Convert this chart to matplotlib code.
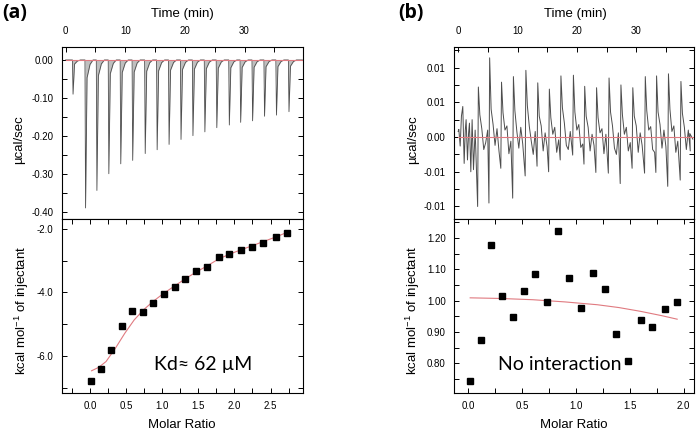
import numpy as np
import matplotlib
matplotlib.use("Agg")
import matplotlib.pyplot as plt
from matplotlib.ticker import MultipleLocator, FormatStrFormatter, FuncFormatter

plt.rcParams['font.family'] = ['Liberation Sans', 'DejaVu Sans']
plt.rcParams['mathtext.default'] = 'regular'

# ---- panel (a): raw injections (time in min, peak in ucal/sec)
a_inj_t = [1.2, 3.3, 5.2, 7.2, 9.2, 11.2, 13.3, 15.3, 17.3, 19.3,
           21.3, 23.3, 25.3, 27.4, 29.3, 31.3, 33.3, 35.3, 37.4]
a_inj_peak = [-0.090, -0.389, -0.343, -0.299, -0.273, -0.264, -0.246, -0.236, -0.222, -0.209,
              -0.199, -0.189, -0.178, -0.171, -0.164, -0.160, -0.148, -0.145, -0.136]

# ---- panel (a): integrated heats
a_ratio = [0.017, 0.157, 0.296, 0.439, 0.587, 0.726, 0.874, 1.02, 1.17, 1.32,
           1.47, 1.62, 1.78, 1.93, 2.09, 2.25, 2.40, 2.57, 2.73]
a_heat = [-6.78, -6.40, -5.82, -5.07, -4.60, -4.61, -4.35, -4.05, -3.82, -3.57,
          -3.33, -3.21, -2.90, -2.80, -2.67, -2.58, -2.46, -2.27, -2.13]
a_fit_x = [0.02, 0.12, 0.22, 0.35, 0.48, 0.61, 0.74, 0.87, 1.02, 1.17, 1.32,
           1.47, 1.62, 1.78, 1.93, 2.09, 2.25, 2.40, 2.57, 2.73]
a_fit_y = [-6.47, -6.36, -6.18, -5.76, -5.29, -4.87, -4.55, -4.29, -4.03, -3.80, -3.57,
           -3.36, -3.17, -2.95, -2.80, -2.66, -2.53, -2.40, -2.26, -2.11]

# ---- panel (b): raw trace
b_start_t = [0.0, 0.11, 0.34, 0.55, 0.78, 1.01, 1.2, 1.34, 1.57, 1.75, 1.9, 2.13, 2.35, 2.58, 2.86]
b_start_y = [0.0008, 0.0011, -0.0013, 0.0030, 0.0044, -0.0038, 0.0010, 0.0025, -0.0033, 0.0005,
             0.0020, -0.0050, 0.0025, -0.0047, 0.0010]
b_inj_t = [3.4, 5.3, 7.3, 9.3, 11.4, 13.4, 15.35, 17.3, 19.4, 21.3,
           23.3, 25.4, 27.4, 29.4, 31.5, 33.4, 35.4, 37.5]
b_pos = [0.0072, 0.0114, 0.0079, 0.0087, 0.0096, 0.0078, 0.0069, 0.0088, 0.0089, 0.0073,
         0.0071, 0.0085, 0.0075, 0.0071, 0.0087, 0.0088, 0.0091, 0.0080]
b_neg = [-0.0100, -0.0095, -0.0045, -0.0088, -0.0056, -0.0042, -0.0050, -0.0033, -0.0026, -0.0039,
         -0.0051, -0.0052, -0.0067, -0.0045, -0.0052, -0.0051, -0.0071, -0.0062]
b_tail = [
    [0.0032, 0.0012, -0.0018, -0.0008, 0.0010],
    [0.0040, 0.0018, -0.0012, 0.0012, -0.0020],
    [0.0035, 0.0010, 0.0016, -0.0024, -0.0006],
    [0.0038, 0.0008, -0.0016, 0.0014, -0.0010],
    [0.0045, 0.0015, -0.0006, -0.0025, 0.0008],
    [0.0030, 0.0016, -0.0020, 0.0006, -0.0014],
    [0.0028, 0.0004, 0.0014, -0.0022, -0.0004],
    [0.0042, 0.0020, -0.0012, -0.0018, 0.0008],
    [0.0036, 0.0010, 0.0018, -0.0015, -0.0010],
    [0.0030, 0.0014, -0.0020, 0.0004, -0.0012],
    [0.0028, 0.0006, 0.0012, -0.0024, 0.0004],
    [0.0036, 0.0016, -0.0016, -0.0025, 0.0006],
    [0.0032, 0.0004, 0.0014, -0.0020, -0.0008],
    [0.0030, 0.0016, -0.0022, 0.0006, -0.0012],
    [0.0038, 0.0010, 0.0015, -0.0018, -0.0022],
    [0.0036, 0.0018, -0.0016, 0.0010, -0.0014],
    [0.0040, 0.0008, 0.0016, -0.0022, -0.0006],
    [0.0034, 0.0014, -0.0018, 0.0010, -0.0020],
]
b_end_t = [39.0, 39.5]
b_end_y = [0.0005, -0.0003]

# ---- panel (b): integrated heats
b_ratio = [0.019, 0.117, 0.216, 0.318, 0.42, 0.522, 0.624, 0.73, 0.835, 0.94,
           1.048, 1.156, 1.267, 1.376, 1.487, 1.60, 1.71, 1.83, 1.94]
b_heat = [0.745, 0.876, 1.178, 1.016, 0.948, 1.031, 1.086, 0.996, 1.222, 1.071,
          0.977, 1.087, 1.036, 0.894, 0.807, 0.938, 0.916, 0.972, 0.996]
b_fit_x = [0.02, 0.3, 0.6, 0.9, 1.2, 1.4, 1.6, 1.8, 1.94]
b_fit_y = [1.009, 1.007, 1.003, 0.996, 0.987, 0.978, 0.966, 0.952, 0.941]

W, H = 700, 434
fig = plt.figure(figsize=(7, 4.34), dpi=100)


def box(l, t, r, b):
    return [l / W, 1 - b / H, (r - l) / W, (b - t) / H]


def style(ax, top_labels):
    for s in ax.spines.values():
        s.set_linewidth(0.8)
    ax.tick_params(which='both', direction='in', labelsize=7, width=0.7,
                   left=True, right=True, top=True, bottom=True)
    ax.tick_params(which='both', length=3.5)
    if top_labels:
        ax.tick_params(axis='x', which='both', labeltop=True, labelbottom=False, bottom=False, pad=8)
    else:
        ax.tick_params(axis='x', pad=6)
    ax.tick_params(axis='y', pad=6)


def two_dec(v, pos):
    # Origin rounds half away from zero
    s = '%.2f' % (v + np.sign(v) * 1e-9)
    return '0.00' if s == '-0.00' else s


red = '#e07a80'

# ---------------- panel (a) top
ax1 = fig.add_axes(box(62, 47, 303, 219))
ta, ya = [0.0], [0.0]
for t, d in zip(a_inj_t, a_inj_peak):
    ta += [t - 0.05, t + 0.05, t + 0.3, t + 0.8, t + 1.3]
    ya += [0.0, d, d * 0.12, d * 0.03, 0.0]
ta += [39.7]
ya += [0.0]
ax1.fill_between(ta, ya, 0, color='0.75', lw=0)
ax1.plot(ta, ya, color='0.3', lw=0.6)
ax1.plot([0, 39.7], [0, 0], color=red, lw=0.8)
ax1.set_xlim(-0.6, 39.8)
ax1.set_ylim(-0.418, 0.034)
ax1.xaxis.set_major_locator(MultipleLocator(10))
ax1.xaxis.set_minor_locator(MultipleLocator(5))
ax1.yaxis.set_major_locator(MultipleLocator(0.1))
ax1.yaxis.set_minor_locator(MultipleLocator(0.05))
ax1.yaxis.set_major_formatter(FuncFormatter(two_dec))
style(ax1, True)

# ---------------- panel (a) bottom
ax2 = fig.add_axes(box(62, 219, 303, 393))
ax2.plot(a_fit_x, a_fit_y, color=red, lw=0.8)
ax2.plot(a_ratio, a_heat, 's', color='black', ms=4)
ax2.set_xlim(-0.39, 2.95)
ax2.set_ylim(-7.17, -1.69)
ax2.xaxis.set_major_locator(MultipleLocator(0.5))
ax2.xaxis.set_minor_locator(MultipleLocator(0.25))
ax2.yaxis.set_major_locator(MultipleLocator(2.0))
ax2.yaxis.set_minor_locator(MultipleLocator(1.0))
ax2.xaxis.set_major_formatter(FormatStrFormatter('%.1f'))
ax2.yaxis.set_major_formatter(FormatStrFormatter('%.1f'))
style(ax2, False)
ax2.text(0.382, 0.161, 'Kd\u2248 62 \u00b5M', transform=ax2.transAxes, ha='left', va='center',
         fontsize=14, family=['Lato', 'DejaVu Sans'])

# ---------------- panel (b) top
ax3 = fig.add_axes(box(454, 47, 694, 219))
tb = list(b_start_t)
yb = list(b_start_y)
for t, p, n, tail in zip(b_inj_t, b_pos, b_neg, b_tail):
    tb += [t - 0.12, t]
    yb += [n, p]
    for k, v in enumerate(tail):
        tb.append(t + 0.25 + 0.33 * k)
        yb.append(v)
tb += b_end_t
yb += b_end_y
ax3.plot(tb, yb, color='0.3', lw=0.7)
ax3.plot([0, 39.5], [0, 0], color=red, lw=0.8)
ax3.set_xlim(-0.7, 39.7)
ax3.set_ylim(-0.0118, 0.01296)
ax3.xaxis.set_major_locator(MultipleLocator(10))
ax3.xaxis.set_minor_locator(MultipleLocator(5))
ax3.yaxis.set_major_locator(MultipleLocator(0.005))
ax3.yaxis.set_minor_locator(MultipleLocator(0.0025))
ax3.yaxis.set_major_formatter(FuncFormatter(two_dec))
style(ax3, True)

# ---------------- panel (b) bottom
ax4 = fig.add_axes(box(454, 219, 694, 393))
ax4.plot(b_fit_x, b_fit_y, color=red, lw=0.8)
ax4.plot(b_ratio, b_heat, 's', color='black', ms=4)
ax4.set_xlim(-0.13, 2.096)
ax4.set_ylim(0.706, 1.26)
ax4.xaxis.set_major_locator(MultipleLocator(0.5))
ax4.xaxis.set_minor_locator(MultipleLocator(0.25))
ax4.yaxis.set_major_locator(MultipleLocator(0.1))
ax4.yaxis.set_minor_locator(MultipleLocator(0.05))
ax4.xaxis.set_major_formatter(FormatStrFormatter('%.1f'))
ax4.yaxis.set_major_formatter(FormatStrFormatter('%.2f'))
style(ax4, False)
ax4.text(0.182, 0.161, 'No interaction', transform=ax4.transAxes, ha='left', va='center',
         fontsize=14, family=['Lato', 'DejaVu Sans'])

# ---------------- labels
def ftext(x, y, s, **kw):
    fig.text(x / W, 1 - y / H, s, ha='center', va='center', **kw)


ftext(15, 13, '(a)', fontsize=14, fontweight='bold', family=['Open Sans', 'DejaVu Sans'])
ftext(411, 13, '(b)', fontsize=14, fontweight='bold', family=['Open Sans', 'DejaVu Sans'])
ftext(182, 14, 'Time (min)', fontsize=9.5)
ftext(575, 14, 'Time (min)', fontsize=9.5)
ftext(182, 425, 'Molar Ratio', fontsize=9.5)
ftext(574, 425, 'Molar Ratio', fontsize=9.5)
ftext(19, 140, '\u00b5cal/sec', fontsize=9.5, rotation=90)
ftext(413, 140, '\u00b5cal/sec', fontsize=9.5, rotation=90)
ftext(22, 310, 'kcal mol$^{-1}$ of injectant', fontsize=9.5, rotation=90)
ftext(413, 310, 'kcal mol$^{-1}$ of injectant', fontsize=9.5, rotation=90)

fig.savefig('out.png', dpi=100)
